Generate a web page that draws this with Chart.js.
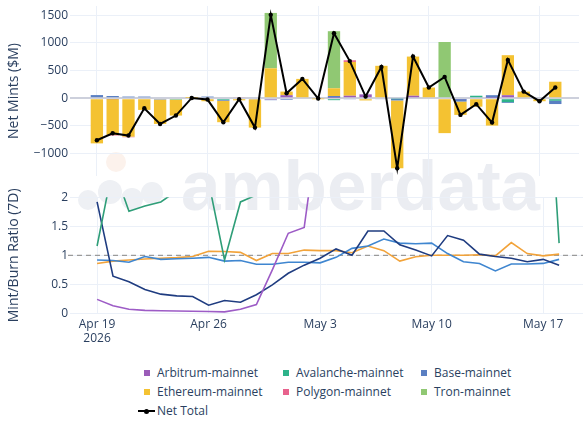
<!DOCTYPE html>
<html lang="en">
<head>
<meta charset="UTF-8">
<title>Net Mints and Mint/Burn Ratio</title>
<script src="https://cdn.jsdelivr.net/npm/chart.js"></script>
<style>
    body { margin: 0; background: #fff; font-family: "Open Sans", Arial, sans-serif; }
    #wrap { position: relative; width: 583px; height: 421px; overflow: hidden; }
    canvas { position: absolute; left: 0; }
    #topChart { top: 0; }
    #botChart { top: 170px; }
    .wm-text {
        position: absolute; left: 181px; top: 148px;
        font: bold 71px "Liberation Sans", Arial, sans-serif; line-height: 76px;
        color: #ebedf2;
    }
    .wm-dot { position: absolute; border-radius: 50%; background: #eef0f4; }
    .legend-item { position: absolute; font-size: 12px; color: #2a3f5f; line-height: 16px; white-space: nowrap; }
    .sw { position: absolute; width: 6px; height: 6px; top: 5px; }
</style>
</head>
<body>
<div id="wrap">
    <!-- watermark -->
    <div class="wm-dot" style="left:106px;top:152px;width:20px;height:20px;background:#fcf2ec;"></div>
    <div class="wm-dot" style="left:78px;top:190px;width:20px;height:20px;"></div>
    <div class="wm-dot" style="left:98px;top:180px;width:24px;height:24px;"></div>
    <div class="wm-dot" style="left:121px;top:188px;width:22px;height:22px;"></div>
    <div class="wm-dot" style="left:141px;top:182px;width:22px;height:22px;"></div>
    <div class="wm-text">amberdata</div>

    <canvas id="topChart" width="583" height="180"></canvas>
    <canvas id="botChart" width="583" height="180"></canvas>
    <div id="legend"></div>
</div>

<script>
    // days Apr 19 .. May 18 2026
    const dates = ['Apr 19','Apr 20','Apr 21','Apr 22','Apr 23','Apr 24','Apr 25','Apr 26','Apr 27','Apr 28',
        'Apr 29','Apr 30','May 1','May 2','May 3','May 4','May 5','May 6','May 7','May 8',
        'May 9','May 10','May 11','May 12','May 13','May 14','May 15','May 16','May 17','May 18'];
    const tickDays = [0, 7, 14, 21, 28];
    const tickLabels = [['Apr 19', '2026'], 'Apr 26', 'May 3', 'May 10', 'May 17'];
    const mintTicks = [-1000, -500, 0, 500, 1000, 1500];
    const ratioTicks = [0, 0.5, 1, 1.5, 2];

    // net mints, $M
    const arbitrum = [0,-15,0,0,0,0,0,0,0,0, 0,-25,55,0,0,10,45,70,0,0, 45,0,0,-15,0,10,55,0,0,0];
    const avalanche = [0,0,0,0,0,-25,0,0,-30,0, 0,0,0,0,0,-35,0,0,0,-10, 0,0,0,0,45,0,-70,0,0,-45];
    const base = [57,40,30,30,-25,0,0,30,-15,0, -20,-10,-30,0,0,30,-15,0,-20,-30, 0,0,0,-45,0,45,-15,0,0,-60];
    const ethereum = [-815,-647,-694,-211,-439,-288,5,-54,-388,-38, -510,540,65,349,-6,140,610,-40,585,-1224,
        707,193,-630,-241,-153,-494,722,120,-54,298];
    const polygon = [0,-10,-10,0,0,0,0,0,0,20, 0,0,0,0,0,0,30,0,0,0, 0,0,0,0,0,0,0,0,0,0];
    const tron = [0,0,0,0,0,0,0,0,0,0, 0,1000,0,0,0,1030,0,0,0,0, 0,0,1015,0,0,0,0,0,0,0];
    const netTotal = [-758,-632,-674,-181,-464,-313,5,-24,-433,-18, -530,1505,90,349,-6,1175,670,30,565,-1264,
        752,193,385,-301,-108,-439,692,120,-54,193];

    // mint/burn ratio (7D); null = off the top of the axis
    const ratioArbitrum = [0.24,0.13,0.07,0.05,0.045,0.04,0.035,0.03,0.025,0.07, 0.15,0.75,1.38,1.48,3.5,null,null,null,null,null,
        null,null,null,null,null,null,null,null,null,null];
    const ratioAvalanche = [1.16,2.54,1.76,1.85,1.92,2.11,null,2.27,0.92,1.92, 2.04,null,null,null,null,null,null,null,null,null,
        null,null,null,null,null,null,null,null,5.6,1.21];
    const ratioTron = [1.92,0.64,0.545,0.41,0.33,0.30,0.29,0.14,0.22,0.19, 0.32,0.49,0.69,0.83,0.95,1.11,1.0,1.42,1.42,1.18,
        1.09,0.99,1.34,1.26,1.02,0.98,0.95,0.89,0.93,0.83];
    const ratioBase = [0.92,0.91,0.88,0.98,0.93,0.94,0.95,0.965,0.90,0.91, 0.845,0.845,0.88,0.88,0.87,0.965,1.12,1.16,1.28,1.21,
        1.20,1.21,1.03,0.89,0.86,0.73,0.85,0.85,0.86,0.93];
    const ratioEthereum = [0.86,0.90,0.92,0.935,0.95,0.96,0.98,1.07,1.065,1.05, 0.91,1.03,1.03,1.09,1.08,1.08,1.045,1.16,1.08,0.90,
        0.975,1.0,1.0,1.0,1.01,0.99,1.22,1.03,0.99,1.02];
    const refRatio = 1;

    const chains = [
        { name: 'Arbitrum-mainnet', data: arbitrum, color: '#9b5cb8' },
        { name: 'Avalanche-mainnet', data: avalanche, color: '#2db38a' },
        { name: 'Base-mainnet', data: base, color: '#5a7fc2' },
        { name: 'Ethereum-mainnet', data: ethereum, color: '#f4c232' },
        { name: 'Polygon-mainnet', data: polygon, color: '#e8628d' },
        { name: 'Tron-mainnet', data: tron, color: '#90c873' }
    ];

    const pts = arr => arr.map((v, i) => ({ x: i, y: v }));
    const font = { family: '"Open Sans", Arial, sans-serif', size: 12 };
    const textColor = '#2a3f5f';
    const gridColor = '#ebf0f8';
    const xMin = -1.7, xMax = 30.5;

    // keep chart areas exactly where the panels sit
    const fixY = s => { s.width = 70; s.paddingTop = 0; s.paddingBottom = 0; };

    function xAxis(showLabels) {
        return {
            type: 'linear', min: xMin, max: xMax, stacked: true,
            offset: false,
            grid: { color: gridColor, drawTicks: false, offset: false },
            border: { display: false },
            afterBuildTicks: s => { s.ticks = tickDays.map(v => ({ value: v })); },
            afterFit: s => { s.height = showLabels ? 36.7 : 0; s.paddingLeft = 0; s.paddingRight = 0; },
            ticks: {
                display: showLabels, color: textColor, font: font, padding: 4, maxRotation: 0,
                callback: v => tickLabels[tickDays.indexOf(v)]
            }
        };
    }

    Chart.defaults.font.family = font.family;

    // top panel: stacked bars + net total line
    const barSets = chains.map(c => ({
        type: 'bar', label: c.name, data: pts(c.data), backgroundColor: c.color,
        stack: 'chains', order: 1, barPercentage: 0.78, categoryPercentage: 1
    }));
    barSets.push({
        type: 'line', label: 'Net Total', data: pts(netTotal), stack: 'net', order: 0,
        borderColor: '#000', backgroundColor: '#000', borderWidth: 2,
        pointRadius: 2.2, pointBorderWidth: 0, pointBackgroundColor: '#000', tension: 0
    });

    new Chart(document.getElementById('topChart'), {
        data: { datasets: barSets },
        options: {
            responsive: false, animation: false,
            layout: { padding: { top: 6, right: 0, bottom: 0, left: 0 } },
            plugins: { legend: { display: false }, tooltip: { enabled: false } },
            scales: {
                x: xAxis(false),
                y: {
                    stacked: true, min: -1404, max: 1665,
                    afterFit: fixY,
                    afterBuildTicks: s => { s.ticks = mintTicks.map(v => ({ value: v })); },
                    border: { display: false },
                    grid: {
                        drawTicks: false,
                        color: c => c.tick.value === 0 ? '#cdd0dc' : gridColor,
                        lineWidth: c => c.tick.value === 0 ? 2 : 1
                    },
                    ticks: {
                        color: textColor, font: font, padding: 2,
                        callback: v => v < 0 ? '\u2212' + Math.abs(v) : String(v)
                    },
                    title: { display: true, text: 'Net Mints ($M)', color: textColor,
                        font: { family: font.family, size: 14 }, padding: { top: 6, bottom: 0 } }
                }
            }
        }
    });

    // bottom panel: ratio lines
    const refLine = {
        id: 'refLine',
        beforeDatasetsDraw(chart) {
            const { ctx, chartArea, scales } = chart;
            const y = scales.y.getPixelForValue(refRatio);
            ctx.save();
            ctx.strokeStyle = '#9a9a9a';
            ctx.lineWidth = 1.2;
            ctx.setLineDash([5, 4]);
            ctx.beginPath();
            ctx.moveTo(chartArea.left - 2, y);
            ctx.lineTo(chartArea.right, y);
            ctx.stroke();
            ctx.restore();
        }
    };

    const ratioSeries = [
        { name: 'Arbitrum-mainnet', data: ratioArbitrum, color: '#9d5cc6' },
        { name: 'Avalanche-mainnet', data: ratioAvalanche, color: '#2f9e78' },
        { name: 'Tron-mainnet', data: ratioTron, color: '#1f3c80' },
        { name: 'Base-mainnet', data: ratioBase, color: '#3f86d0' },
        { name: 'Ethereum-mainnet', data: ratioEthereum, color: '#f2a33a' }
    ];

    new Chart(document.getElementById('botChart'), {
        type: 'line',
        data: {
            datasets: ratioSeries.map(s => ({
                label: s.name, data: pts(s.data), borderColor: s.color, backgroundColor: s.color,
                borderWidth: 1.6, pointRadius: 0, tension: 0, clip: 0
            }))
        },
        options: {
            responsive: false, animation: false,
            layout: { padding: { top: 27.3, right: 0, bottom: 0, left: 0 } },
            plugins: { legend: { display: false }, tooltip: { enabled: false } },
            scales: {
                x: xAxis(true),
                y: {
                    min: 0, max: 2,
                    afterFit: fixY,
                    afterBuildTicks: s => { s.ticks = ratioTicks.map(v => ({ value: v })); },
                    border: { display: false },
                    grid: { color: gridColor, drawTicks: false },
                    ticks: { color: textColor, font: font, padding: 2, callback: v => String(v) },
                    title: { display: true, text: 'Mint/Burn Ratio (7D)', color: textColor,
                        font: { family: font.family, size: 14 }, padding: { top: 6, bottom: 0 } }
                }
            }
        },
        plugins: [refLine]
    });

    // legend
    const legend = document.getElementById('legend');
    const colX = [144, 283, 421];
    const rowY = [365, 384, 403];
    chains.forEach((c, i) => {
        const el = document.createElement('div');
        el.className = 'legend-item';
        el.style.left = colX[i % 3] + 'px';
        el.style.top = rowY[Math.floor(i / 3)] + 'px';
        el.innerHTML = '<span class="sw" style="left:0;background:' + c.color + '"></span>' +
            '<span style="margin-left:13px">' + c.name + '</span>';
        legend.appendChild(el);
    });
    const net = document.createElement('div');
    net.className = 'legend-item';
    net.style.left = '138px';
    net.style.top = rowY[2] + 'px';
    net.innerHTML = '<span style="position:absolute;left:0;top:7px;width:17px;height:2px;background:#000"></span>' +
        '<span style="position:absolute;left:6px;top:5.5px;width:5px;height:5px;border-radius:50%;background:#000"></span>' +
        '<span style="margin-left:19px">Net Total</span>';
    legend.appendChild(net);
</script>
</body>
</html>
